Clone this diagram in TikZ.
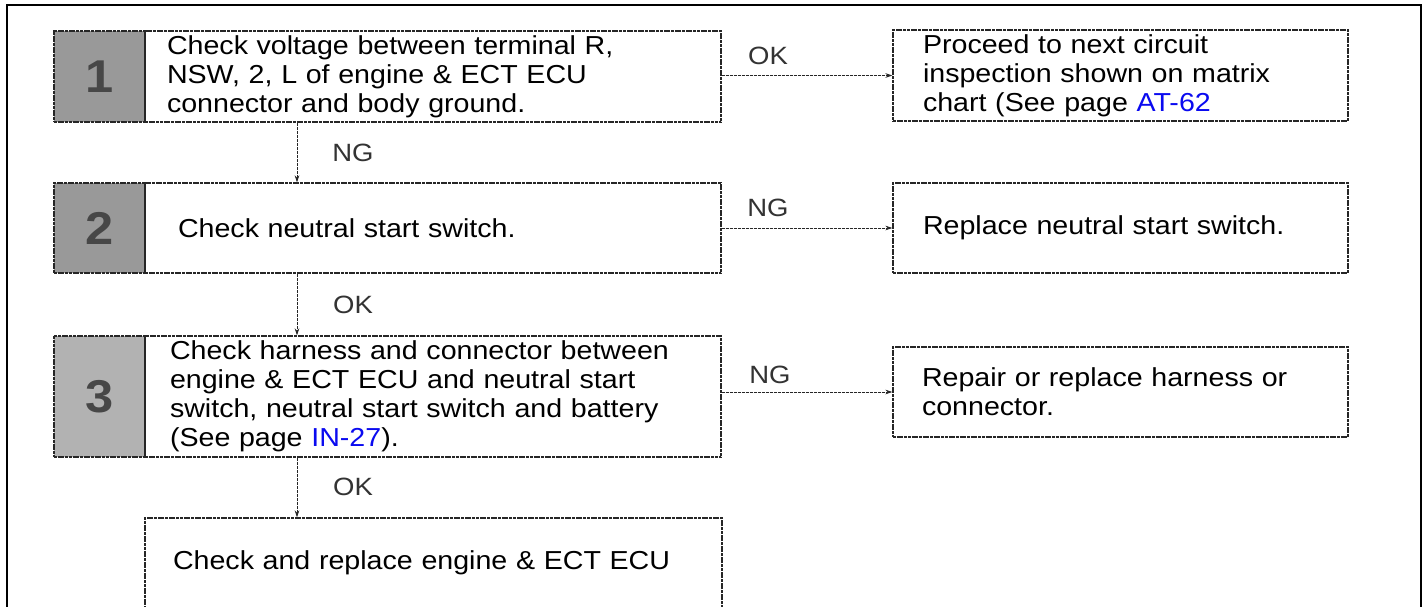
\documentclass[tikz,border=0pt]{standalone}
\usepackage{fontspec}
\setmainfont{Liberation Sans}[FakeStretch=1.1]
\usetikzlibrary{arrows.meta}
\definecolor{linkblue}{RGB}{10,10,240}
\begin{document}
\begin{tikzpicture}[x=1pt,y=-1pt,
  box/.style={draw=black!85, line width=1.1pt, dash pattern=on 3pt off 0.7pt,
    rectangle, inner ysep=0pt, align=left, minimum width=#1,
    font=\fontsize{26}{29}\selectfont},
  box/.default=455pt,
  shade/.style={draw=black!85, line width=1.1pt, dash pattern=on 3pt off 0.7pt,
    fill=black!40, text=black!72, minimum width=91pt, inner sep=0pt,
    font=\fontsize{46}{46}\selectfont\bfseries},
  conn/.style={draw=black!85, line width=0.9pt, dash pattern=on 3pt off 1pt,
    -{Stealth[length=7pt,width=4.5pt]}},
  lbl/.style={text=black!80, inner sep=0pt, font=\fontsize{25}{25}\selectfont}
]
\useasboundingbox (0,0) rectangle (1427,606);
\clip (0,0) rectangle (1427,606);
\fill[white] (0,0) rectangle (1427,606);
% outer frame (open at the bottom)
\draw[line width=2.5pt] (7,640) -- (7,5) -- (1421,5) -- (1421,640);

% step 1
\node[shade, minimum height=91pt] (s1) at (99.5,76.5) {1};
\node[box=576pt, minimum height=91pt, inner xsep=22pt, text width=532pt] (t1) at (433,76.5)
  {Check voltage between terminal R,\\NSW, 2, L of engine \& ECT ECU\\connector and body ground.};
\node[box, minimum height=91pt, inner xsep=30pt, text width=395pt] (r1) at (1120.5,75.5)
  {Proceed to next circuit\\inspection shown on matrix\\chart (See page \textcolor{linkblue}{AT-62}};

% step 2
\node[shade, minimum height=90pt] (s2) at (99.5,228) {2};
\node[box=576pt, minimum height=90pt, inner xsep=33pt, text width=510pt] (t2) at (433,228)
  {Check neutral start switch.};
\node[box, minimum height=90pt, inner xsep=30pt, text width=395pt] (r2) at (1120.5,228)
  {Replace neutral start switch.};

% step 3
\node[shade, minimum height=121pt, fill=black!30] (s3) at (99.5,396.5) {3};
\node[box=576pt, minimum height=121pt, inner xsep=25pt, text width=526pt] (t3) at (433,396.5)
  {Check harness and connector between\\engine \& ECT ECU and neutral start\\switch, neutral start switch and battery\\(See page \textcolor{linkblue}{IN-27}).};
\node[box, minimum height=90pt, inner xsep=29pt, text width=397pt] (r3) at (1120.5,392)
  {Repair or replace harness or\\connector.};

% final box (continues past the bottom edge)
\node[box=577pt, minimum height=90pt, inner xsep=28pt, text width=521pt] (t4) at (433.5,563)
  {Check and replace engine \& ECT ECU};

% connectors
\draw[conn] (t1.east |- r1.west) -- (r1.west);
\draw[conn] (t2.east) -- (r2.west);
\draw[conn] (t3.east |- r3.west) -- (r3.west);
\draw[conn] ([xshift=-136pt]t1.south) -- ([xshift=-136pt]t2.north);
\draw[conn] ([xshift=-136pt]t2.south) -- ([xshift=-136pt]t3.north);
\draw[conn] ([xshift=-136pt]t3.south) -- ([xshift=-136.5pt]t4.north);

% labels
\node[lbl] (ok1) at (768,56) {OK};
\node[lbl] (ng2) at (768,208) {NG};
\node[lbl] (ng3) at (770,375) {NG};
\node[lbl] (ng1) at (353,153) {NG};
\node[lbl] (ok2) at (353,305) {OK};
\node[lbl] (ok3) at (353,487) {OK};
\end{tikzpicture}
\end{document}
